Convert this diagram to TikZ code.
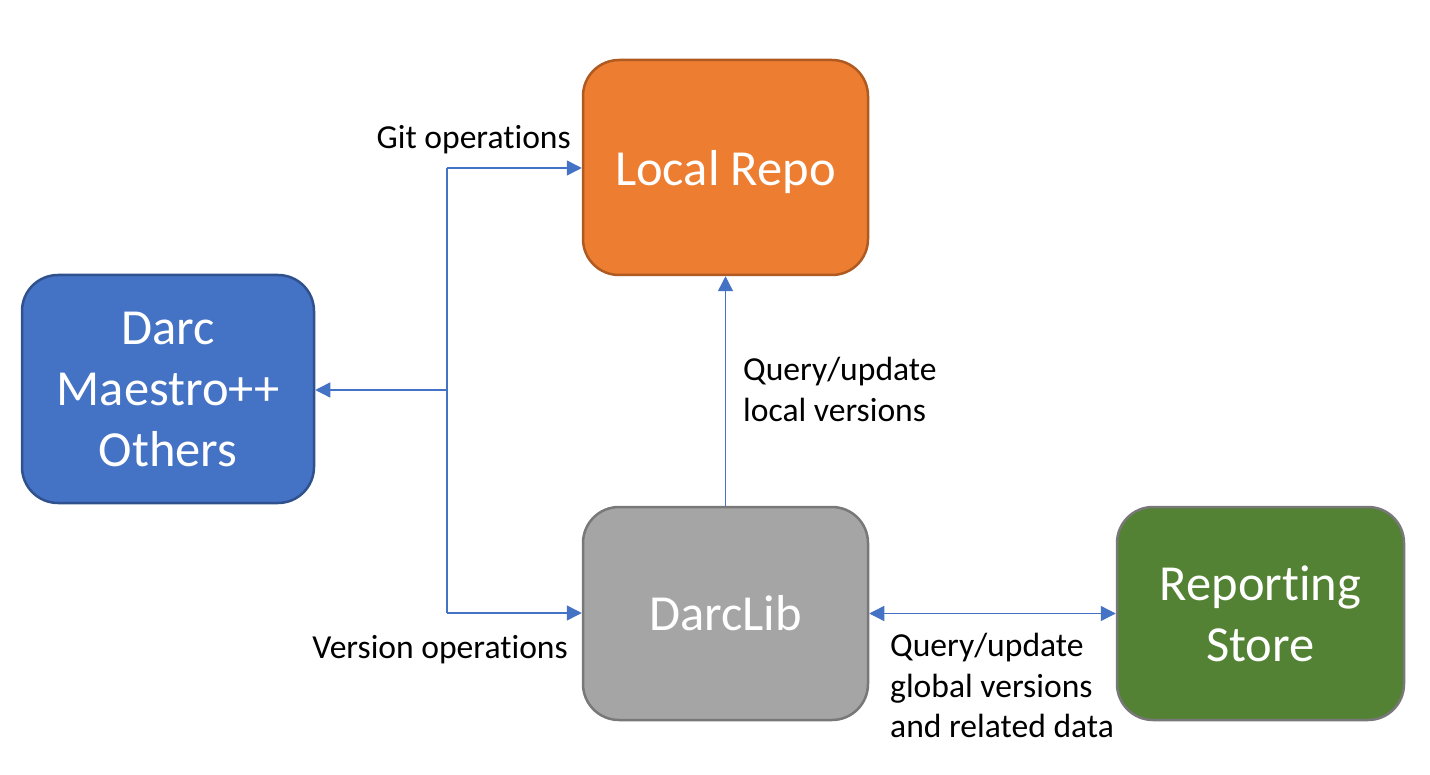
\documentclass[tikz,border=0pt]{standalone}
\usepackage{fontspec}
\setmainfont{Carlito}[RawFeature={-liga;-clig;-calt;-rlig;-dlig}]
\usetikzlibrary{arrows.meta}
\definecolor{orangeF}{HTML}{ED7D31}
\definecolor{orangeD}{HTML}{AE5A21}
\definecolor{blueF}{HTML}{4472C4}
\definecolor{blueD}{HTML}{2F528F}
\definecolor{grayF}{HTML}{A5A5A5}
\definecolor{grayD}{HTML}{787878}
\definecolor{greenF}{HTML}{548235}
\definecolor{linkC}{HTML}{4472C4}
\begin{document}
\begin{tikzpicture}[x=1pt,y=-1pt,
  box/.style={draw, line width=2.5pt, rounded corners=36pt, inner sep=0pt,
    text=white, font=\fontsize{50.5}{61}\selectfont, align=center},
  lbl/.style={font=\fontsize{33.6}{40.5}\selectfont, inner sep=0pt, align=left},
  conn/.style={draw=linkC, line width=1.4pt},
  tipend/.style={-{Triangle[length=15pt,width=15pt]}},
  tipboth/.style={{Triangle[length=15pt,width=15pt]}-{Triangle[length=15pt,width=15pt]}}
]
\useasboundingbox (0,0) rectangle (1430,775);

\node[box, fill=orangeF, draw=orangeD, minimum width=285pt, minimum height=215pt, text depth=0pt] (repo) at (725.5,167.5) {Local Repo};
\node[box, fill=blueF, draw=blueD, minimum width=292pt, minimum height=228pt] (darc) at (168,389) {Darc\\Maestro++\\Others};
\node[box, fill=grayF, draw=grayD, minimum width=285pt, minimum height=213pt] (lib) at (725.5,613.5) {DarcLib};
\node[box, fill=greenF, draw=grayD, minimum width=287pt, minimum height=213pt] (store) at (1260.5,613.5) {Reporting\\Store};

\coordinate (j1) at (447,168);
\coordinate (j2) at (447,613);
\coordinate (j3) at (447,390);

\draw[conn] (j1) -- (j2);
\draw[conn,tipend] (j1) -- (j1 -| repo.west);
\draw[conn,tipend] (j2) -- (j2 -| lib.west);
\draw[conn,tipend] (j3) -- (j3 -| darc.east);
\draw[conn,tipend] (lib.north) -- (repo.south);
\draw[conn,tipboth] (lib.east) -- (store.west);

\node[lbl, anchor=base east] (gitlbl) at (571,149) {Git operations};
\node[lbl, anchor=base east] (verlbl) at (568,658) {Version operations};
\node[lbl, anchor=north west] (loclbl) at (743,357) {Query/update\\local versions};
\node[lbl, anchor=north west] (globlbl) at (890,633) {Query/update\\global versions\\and related data};
\end{tikzpicture}
\end{document}
